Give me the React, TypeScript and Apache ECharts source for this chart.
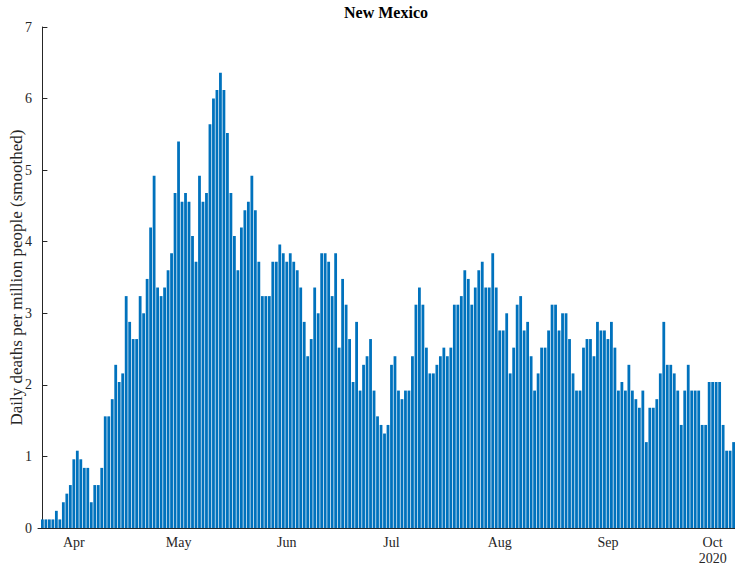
import React, { useEffect, useRef } from "react";
import * as echarts from "echarts";

const startDate = "2020-03-23";
const monthNames = ["Jan", "Feb", "Mar", "Apr", "May", "Jun", "Jul", "Aug", "Sep", "Oct", "Nov", "Dec"];
const yTicks = [0, 1, 2, 3, 4, 5, 6, 7];

const deaths = [
  0.12, 0.12, 0.12, 0.12, 0.24, 0.12, 0.36, 0.48, 0.6, 0.96, 1.08, 0.96, 0.84, 0.84, 0.36, 0.6, 0.6,
  0.84, 1.56, 1.56, 1.8, 2.28, 2.04, 2.16, 3.24, 2.88, 2.64, 2.64, 3.24, 3.0, 3.48, 4.2, 4.92, 3.36, 3.24,
  3.36, 3.6, 3.84, 4.68, 5.4, 4.56, 4.68, 4.56, 4.08, 3.72, 4.92, 4.56, 4.68, 5.64,
  6.0, 6.12, 6.36, 6.12, 5.52, 4.68, 4.08, 3.6, 4.2, 4.44, 4.56, 4.92, 4.44, 3.72, 3.24, 3.24, 3.24, 3.72,
  3.72, 3.96, 3.84, 3.72, 3.84, 3.72, 3.6,
  3.36, 2.88, 2.4, 2.64, 3.36, 3.0, 3.84, 3.84, 3.72, 3.24, 3.84, 2.52, 3.48, 3.12, 2.64, 2.04, 2.88, 1.92,
  2.28, 2.4, 2.64, 1.92, 1.56, 1.44, 1.32, 1.44, 2.28, 2.4, 1.92, 1.8, 1.92, 1.92,
  2.4, 3.12, 3.36, 3.12, 2.52, 2.16, 2.16, 2.28, 2.4, 2.52, 2.4, 2.52, 3.12, 3.12, 3.24, 3.6, 3.48, 3.12,
  3.36, 3.6, 3.72, 3.36, 3.36, 3.84, 3.36, 2.76, 2.76, 3.0, 2.16,
  2.52, 3.12, 3.24, 2.76, 2.88, 2.4, 1.92, 2.16, 2.52, 2.52, 2.76, 3.12, 3.12, 2.76, 3.0, 3.0, 2.64, 2.16,
  1.92, 1.92, 2.52, 2.64, 2.64, 2.4, 2.88, 2.76, 2.76, 2.64, 2.88,
  2.52, 1.92, 2.04, 1.92, 2.28, 1.92, 1.8, 1.68, 1.92, 1.2, 1.68, 1.68, 1.8, 2.16, 2.88, 2.28, 2.28, 2.16,
  1.92, 1.44, 1.92, 2.28, 1.92, 1.92, 1.92, 1.44, 1.44, 2.04, 2.04, 2.04, 2.04, 1.44, 1.08, 1.08, 1.2,
];

function dateOf(i: number): Date {
  const d = new Date(startDate + "T00:00:00Z");
  d.setUTCDate(d.getUTCDate() + i);
  return d;
}

const monthStarts: number[] = deaths.map((_, i) => i).filter((i) => dateOf(i).getUTCDate() === 1);

export default function App() {
  const ref = useRef<HTMLDivElement>(null);
  useEffect(() => {
    if (!ref.current) return;
    const chart = echarts.init(ref.current, undefined, { renderer: "svg" });
    const font = "'Liberation Serif', 'Times New Roman', serif";
    const axisColor = "#262626";
    chart.setOption({
      animation: false,
      backgroundColor: "#ffffff",
      title: {
        text: "New Mexico",
        left: 386,
        textAlign: "center",
        top: 4,
        padding: 0,
        textStyle: { fontFamily: font, fontSize: 16, fontWeight: "bold", color: "#000" },
      },
      grid: { left: 38, right: 0, top: 27, bottom: 38, containLabel: false, outerBoundsMode: "none" },
      xAxis: {
        type: "value",
        min: -1.26,
        max: 198.4,
        splitLine: { show: false },
        axisLine: { show: true, lineStyle: { color: axisColor, width: 1 } },
        axisTick: { show: false, customValues: monthStarts },
        axisLabel: {
          customValues: monthStarts,
          fontFamily: font,
          fontSize: 14,
          color: axisColor,
          margin: 6,
          lineHeight: 16,
          formatter: (v: number) => {
            const d = dateOf(Math.round(v));
            const m = monthNames[d.getUTCMonth()];
            return d.getUTCMonth() === 9 ? m + "\n" + d.getUTCFullYear() : m;
          },
        },
      },
      yAxis: {
        type: "value",
        min: yTicks[0],
        max: yTicks[yTicks.length - 1],
        interval: 1,
        name: "Daily deaths per million people (smoothed)",
        nameLocation: "middle",
        nameGap: 13,
        nameMoveOverlap: false,
        nameTextStyle: { fontFamily: font, fontSize: 17, color: axisColor },
        splitLine: { show: false },
        axisLine: { show: true, lineStyle: { color: axisColor, width: 1 } },
        axisTick: { show: true, inside: true, length: 5, lineStyle: { color: axisColor } },
        axisLabel: { fontFamily: font, fontSize: 14, color: axisColor, margin: 6 },
      },
      series: [
        {
          type: "bar",
          data: deaths.map((v, i) => [i, v]),
          barWidth: 2.8,
          itemStyle: { color: "#0072BD" },
        },
      ],
    });
    return () => chart.dispose();
  }, []);
  return (
    <div
      ref={ref}
      style={{ position: "absolute", left: 0, top: 0, width: 735, height: 566, background: "#fff" }}
    />
  );
}
